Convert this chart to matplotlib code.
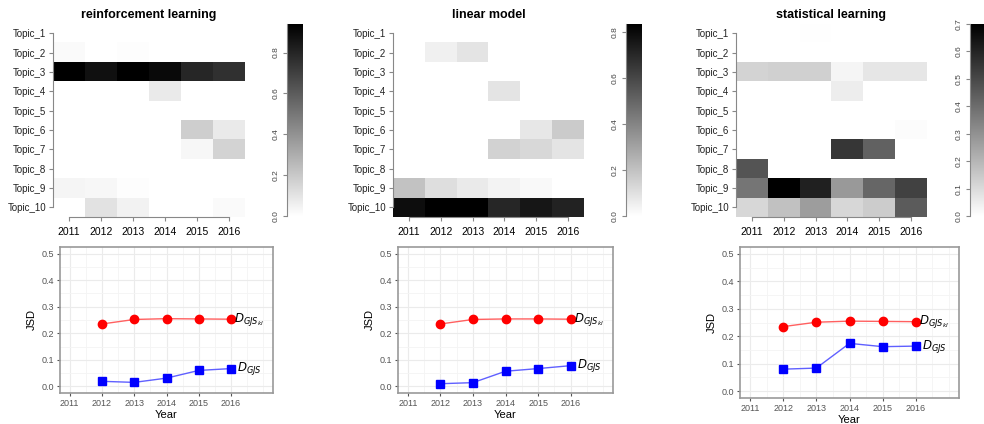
import numpy as np
import matplotlib
matplotlib.use("Agg")
import matplotlib.pyplot as plt

plt.rcParams["font.family"] = ["Liberation Sans", "DejaVu Sans"]
plt.rcParams["mathtext.fontset"] = "dejavusans"

# years and topics
years = [2011, 2012, 2013, 2014, 2015, 2016]
topics = ["Topic_%d" % i for i in range(1, 11)]
titles = ["reinforcement learning", "linear model", "statistical learning"]

# topic weights per year (rows = topics, cols = years)
heat_rl = [
    [0.00, 0.00, 0.00, 0.00, 0.00, 0.00],
    [0.02, 0.00, 0.01, 0.00, 0.00, 0.00],
    [0.94, 0.88, 0.94, 0.90, 0.80, 0.76],
    [0.00, 0.00, 0.00, 0.08, 0.00, 0.00],
    [0.00, 0.00, 0.00, 0.00, 0.00, 0.00],
    [0.00, 0.00, 0.00, 0.00, 0.18, 0.08],
    [0.00, 0.00, 0.00, 0.00, 0.03, 0.16],
    [0.00, 0.00, 0.00, 0.00, 0.00, 0.00],
    [0.04, 0.03, 0.01, 0.00, 0.00, 0.00],
    [0.00, 0.11, 0.05, 0.00, 0.00, 0.02],
]
heat_lm = [
    [0.00, 0.00, 0.00, 0.00, 0.00, 0.00],
    [0.00, 0.05, 0.09, 0.00, 0.00, 0.00],
    [0.00, 0.00, 0.00, 0.00, 0.00, 0.00],
    [0.00, 0.00, 0.00, 0.09, 0.00, 0.00],
    [0.00, 0.00, 0.00, 0.00, 0.00, 0.00],
    [0.00, 0.00, 0.00, 0.00, 0.08, 0.17],
    [0.00, 0.00, 0.00, 0.15, 0.13, 0.09],
    [0.00, 0.00, 0.00, 0.00, 0.00, 0.00],
    [0.20, 0.11, 0.07, 0.04, 0.02, 0.00],
    [0.79, 0.835, 0.83, 0.71, 0.76, 0.72],
]
heat_sl = [
    [0.00, 0.00, 0.005, 0.00, 0.00, 0.00],
    [0.00, 0.00, 0.00, 0.00, 0.00, 0.00],
    [0.12, 0.13, 0.13, 0.03, 0.07, 0.07],
    [0.00, 0.00, 0.00, 0.05, 0.00, 0.00],
    [0.00, 0.00, 0.00, 0.00, 0.00, 0.00],
    [0.00, 0.00, 0.00, 0.00, 0.00, 0.01],
    [0.00, 0.00, 0.00, 0.55, 0.43, 0.00],
    [0.47, 0.00, 0.00, 0.00, 0.00, 0.00],
    [0.38, 0.70, 0.61, 0.28, 0.42, 0.52],
    [0.11, 0.17, 0.27, 0.11, 0.14, 0.45],
]

# JSD lines
jsd_years = [2012, 2013, 2014, 2015, 2016]
gjskl_rl = [0.235, 0.252, 0.255, 0.254, 0.253]
gjs_rl = [0.019, 0.015, 0.031, 0.060, 0.067]
gjskl_lm = [0.235, 0.252, 0.254, 0.254, 0.253]
gjs_lm = [0.010, 0.014, 0.057, 0.067, 0.078]
gjskl_sl = [0.235, 0.251, 0.255, 0.254, 0.253]
gjs_sl = [0.080, 0.084, 0.174, 0.162, 0.164]

heats = [heat_rl, heat_lm, heat_sl]
reds = [gjskl_rl, gjskl_lm, gjskl_sl]
blues = [gjs_rl, gjs_lm, gjs_sl]

W, H = 984, 424
fig = plt.figure(figsize=(W / 100, H / 100), dpi=100)


def box(x0, y0, x1, y1):
    return [x0 / W, 1 - y1 / H, (x1 - x0) / W, (y1 - y0) / H]


heat_x = [(53, 245), (393, 584), (736, 927)]
cbar_x = [(287, 303), (626, 642), (970, 986)]
line_box = [(60, 247, 273, 393), (398, 247, 613, 393), (740, 247, 959, 398)]
cbar_ticks = [[0.0, 0.2, 0.4, 0.6, 0.8], [0.0, 0.2, 0.4, 0.6, 0.8],
              [0.0, 0.1, 0.2, 0.3, 0.4, 0.5, 0.6, 0.7]]

for k in range(3):
    data = np.array(heats[k])
    vmax = data.max()
    # heatmap
    ax = fig.add_axes(box(heat_x[k][0], 23.5, heat_x[k][1], 217))
    ax.imshow(data, cmap="gray_r", vmin=0, vmax=vmax, aspect="auto",
              interpolation="nearest")
    ax.set_xticks(range(6))
    ax.set_xticklabels(years, fontsize=7.5)
    ax.set_yticks(range(10))
    ax.set_yticklabels(topics, fontsize=7, color="#222222")
    for s in ["top", "right"]:
        ax.spines[s].set_visible(False)
    ax.spines["left"].set_color("#888888")
    ax.spines["bottom"].set_color("#888888")
    ax.spines["left"].set_bounds(0, 9)
    ax.spines["bottom"].set_bounds(0, 5)
    ax.tick_params(length=3, color="#888888", pad=2)
    ax.tick_params(axis="x", pad=4)
    ax.set_title(titles[k], fontsize=9, fontweight="bold", pad=4)

    # colorbar
    cax = fig.add_axes(box(cbar_x[k][0], 24, cbar_x[k][1], 216))
    grad = np.linspace(vmax, 0, 256).reshape(-1, 1)
    cax.imshow(grad, cmap="gray_r", vmin=0, vmax=vmax, aspect="auto",
               extent=[0, 1, 0, vmax])
    cax.set_xticks([])
    cax.set_yticks(cbar_ticks[k])
    cax.set_yticklabels(["%.1f" % t for t in cbar_ticks[k]], rotation=90,
                        va="center", fontsize=6, color="#444444")
    for s in ["top", "right", "bottom"]:
        cax.spines[s].set_visible(False)
    cax.spines["left"].set_color("#888888")
    cax.tick_params(length=3, color="#888888", pad=2)

    # JSD line chart
    x0, y0, x1, y1 = line_box[k]
    lax = fig.add_axes(box(x0, y0, x1, y1))
    lax.plot(jsd_years, reds[k], color="#ff6060", lw=1, zorder=2)
    lax.plot(jsd_years, reds[k], "o", color="red", ms=6, zorder=3)
    lax.plot(jsd_years, blues[k], color="#6060ff", lw=1, zorder=2)
    lax.plot(jsd_years, blues[k], "s", color="blue", ms=6, zorder=3)
    lax.text(2016.1, reds[k][-1], r"$D_{GJS_{kl}}$", fontsize=8.5,
             va="center", ha="left")
    lax.text(2016.18, blues[k][-1], r"$D_{GJS}$", fontsize=8.5,
             va="center", ha="left")
    lax.set_xlim(2010.7, 2017.3)
    lax.set_ylim(-0.025, 0.525)
    lax.set_xticks(years)
    lax.set_xticks([2011.5, 2012.5, 2013.5, 2014.5, 2015.5, 2016.5, 2017], minor=True)
    lax.set_yticks([0.0, 0.1, 0.2, 0.3, 0.4, 0.5])
    lax.set_yticks([0.05, 0.15, 0.25, 0.35, 0.45], minor=True)
    lax.set_yticklabels(["0.0", "0.1", "0.2", "0.3", "0.4", "0.5"])
    lax.grid(which="major", color="#ebebeb", lw=0.8)
    lax.grid(which="minor", color="#f4f4f4", lw=0.6)
    lax.set_axisbelow(True)
    lax.tick_params(which="major", labelsize=6.5, labelcolor="#555555",
                    color="#555555", length=2.5, pad=2)
    lax.tick_params(which="minor", length=0)
    for s in lax.spines.values():
        s.set_color("#999999")
        s.set_linewidth(1.2)
    lax.set_xlabel("Year", fontsize=8, labelpad=1)
    lax.set_ylabel("JSD", fontsize=8, labelpad=3)

fig.savefig("out.png", dpi=100)
